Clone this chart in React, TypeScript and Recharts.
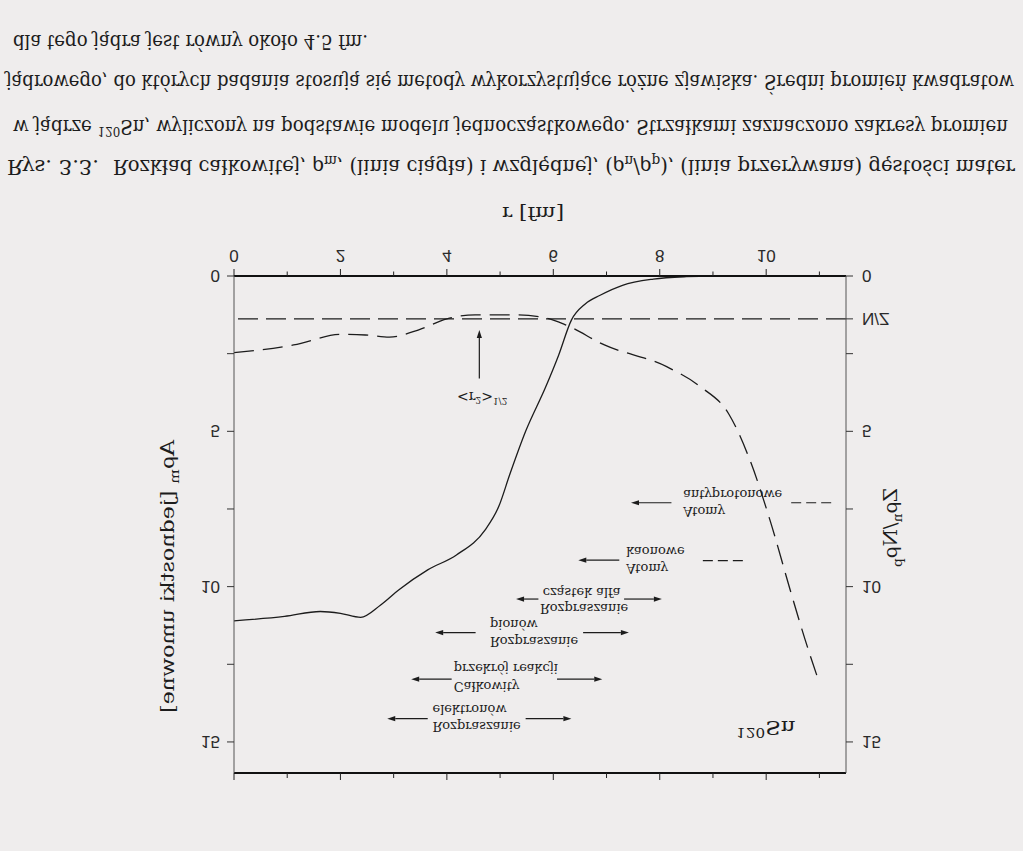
import React from 'react';
import { ComposedChart, Line, XAxis, YAxis, ReferenceLine, Scatter } from 'recharts';

// total density A*rho_m (left axis), solid line
const rhoMR = [0, 0.95, 1.62, 2.0, 2.38, 2.75, 3.1, 3.64, 4.18, 4.72, 4.98, 5.18, 5.48, 5.85, 6.1, 6.34, 6.6, 6.88, 7.3, 7.88, 8.5, 9.0, 10.0, 11.5];
const rhoMV = [11.1, 10.96, 10.8, 10.86, 10.99, 10.6, 10.1, 9.46, 8.98, 8.17, 7.4, 6.4, 5.0, 3.6, 2.55, 1.42, 0.9, 0.62, 0.3, 0.1, 0.02, 0, 0, 0];

// relative density Z*rho_n / N*rho_p (right axis), dashed line
const ratioR = [0, 1.12, 2.02, 2.47, 2.92, 3.46, 4.0, 4.53, 5.26, 5.88, 6.24, 6.96, 8.13, 8.76, 9.3, 9.7, 10.07, 10.45, 10.73, 10.98];
const ratioV = [2.47, 2.22, 1.88, 1.9, 1.97, 1.74, 1.38, 1.25, 1.25, 1.36, 1.58, 2.22, 2.92, 3.56, 4.45, 5.95, 7.85, 10.1, 11.7, 13.0];

const nzRatio = 1.38;

const xTicks = [0, 1, 2, 3, 4, 5, 6, 7, 8, 9, 10, 11];
const yTicksLeft = [0, 2.5, 5, 7.5, 10, 12.5, 15];
const yTicksRight = [0, nzRatio, 2.5, 5, 7.5, 10, 12.5, 15];

// annotation texts (data coordinates: r [fm], value)
const annoTexts = ['Atomy', 'antyprotonowe', 'Atomy', 'kaonowe', 'Rozpraszanie', 'cząstek alfa', 'Rozpraszanie', 'pionów', 'Całkowity', 'przekrój reakcji', 'Rozpraszanie', 'elektronów'];
const annoR = [8.44, 8.44, 7.37, 7.37, 5.75, 5.8, 4.81, 4.81, 4.13, 4.13, 3.73, 3.73];
const annoV = [7.58, 7.05, 9.41, 8.87, 10.7, 10.2, 11.77, 11.23, 13.21, 12.65, 14.52, 13.96];

// arrows (tail -> head)
const arrowFromR = [4.61, 8.22, 7.24, 5.72, 7.33, 4.54, 6.56, 4.09, 6.07, 3.64, 5.48];
const arrowFromV = [3.3, 7.3, 9.15, 10.4, 10.4, 11.48, 11.48, 12.98, 12.98, 14.25, 14.25];
const arrowToR = [4.61, 7.46, 6.47, 5.3, 8.04, 3.78, 7.42, 3.33, 6.92, 2.88, 6.34];
const arrowToV = [1.74, 7.3, 9.15, 10.4, 10.4, 11.48, 11.48, 12.98, 12.98, 14.25, 14.25];

// short dashed range marks
const rangeFromR = [10.47, 8.81];
const rangeToR = [11.28, 9.62];
const rangeV = [7.3, 9.16];

// special labels
const rmsLabelR = 4.19;
const rmsLabelV = 3.88;
const isoLabelR = 9.44;
const isoLabelV = 14.34;

const INK = '#1c1c1c';
const SERIF = 'DejaVu Serif';
const SANS = 'Liberation Sans';

const fmtX = (v: number) => (v % 2 === 0 && v <= 10 ? String(v) : '');
const fmtL = (v: number) => (v % 5 === 0 ? String(v) : '');
const fmtR = (v: number) => (v === nzRatio ? 'N/Z' : v % 5 === 0 ? String(v) : '');

const BottomTick = (p: any) => {
  const v = p.payload.value;
  const major = v % 2 === 0;
  const lbl = fmtX(v);
  return (
    <g>
      <line x1={p.x} x2={p.x} y1={p.y} y2={p.y + (major ? 7 : 4.5)} stroke="#222" strokeWidth={1} />
      {lbl !== '' && (
        <text x={p.x} y={p.y + 14} dy="0.71em" textAnchor="middle" fill="#2a2a2a" fontSize={17} fontFamily={SANS}>
          {lbl}
        </text>
      )}
    </g>
  );
};

const TopTick = (p: any) => {
  const v = p.payload.value;
  const major = v % 2 === 0;
  return <line x1={p.x} x2={p.x} y1={p.y} y2={p.y - (major ? 7 : 5)} stroke="#222" strokeWidth={1} />;
};

const arrowShape = (props: any) => {
  const { x1, y1, x2, y2 } = props;
  const dx = x2 - x1;
  const dy = y2 - y1;
  const len = Math.sqrt(dx * dx + dy * dy) || 1;
  const ux = dx / len;
  const uy = dy / len;
  const hl = 8;
  const hw = 2.6;
  const bx = x2 - ux * hl;
  const by = y2 - uy * hl;
  const p1 = `${bx - uy * hw},${by + ux * hw}`;
  const p2 = `${bx + uy * hw},${by - ux * hw}`;
  return (
    <g>
      <line x1={x1} y1={y1} x2={bx} y2={by} stroke={INK} strokeWidth={1.2} />
      <polygon points={`${x2},${y2} ${p1} ${p2}`} fill={INK} />
    </g>
  );
};

const textShape = (p: any) => (
  <text x={p.cx} y={p.cy} dy="0.35em" fontFamily={SERIF} fontSize={13} fill={INK}>
    {p.payload.label}
  </text>
);

const specialShape = (p: any) => {
  if (p.payload.kind === 'rms') {
    return (
      <text x={p.cx} y={p.cy} dy="0.35em" fontFamily={SERIF} fontSize={14} fill={INK}>
        {'<r'}
        <tspan dy={-5} fontSize={9}>2</tspan>
        <tspan dy={5}>{'>'}</tspan>
        <tspan dy={-6} fontSize={9}>1/2</tspan>
      </text>
    );
  }
  return (
    <text x={p.cx} y={p.cy} fontFamily={SERIF} fontSize={18} fill={INK} textLength={59} lengthAdjust="spacingAndGlyphs">
      <tspan dy={-7} fontSize={12}>120</tspan>
      <tspan dy={7}>Sn</tspan>
    </text>
  );
};

export default function App() {
  const rhoData = rhoMR.map((r, i) => ({ r, v: rhoMV[i] }));
  const ratioData = ratioR.map((r, i) => ({ r, v: ratioV[i] }));
  const textData = annoTexts.map((label, i) => ({ r: annoR[i], v: annoV[i], label }));
  const specialData = [
    { r: rmsLabelR, v: rmsLabelV, kind: 'rms' },
    { r: isoLabelR, v: isoLabelV, kind: 'iso' },
  ];

  const axisTick = { fill: '#2a2a2a', fontSize: 17, fontFamily: SANS };

  return (
    <div
      style={{
        position: 'absolute',
        left: 0,
        top: 0,
        width: 1023,
        height: 851,
        overflow: 'hidden',
        background: '#efeded',
        transform: 'scaleY(-1)',
      }}
    >
      <div style={{ position: 'absolute', left: 0, top: 0 }}>
        <ComposedChart width={1023} height={851} margin={{ top: 58, right: 107, bottom: 236, left: 164 }}>
          <XAxis
            xAxisId="b"
            dataKey="r"
            type="number"
            domain={[0, 11.5]}
            ticks={xTicks}
            interval={0}
            height={40}
            tickSize={0}
            tickMargin={0}
            axisLine={{ stroke: '#111', strokeWidth: 2.2 }}
            tickLine={false}
            tick={BottomTick}
          />
          <XAxis
            xAxisId="t"
            orientation="top"
            dataKey="r"
            type="number"
            domain={[0, 11.5]}
            ticks={xTicks}
            interval={0}
            height={20}
            tickSize={0}
            tickMargin={0}
            axisLine={{ stroke: '#111', strokeWidth: 2.2 }}
            tickLine={false}
            tick={TopTick}
          />
          <YAxis
            yAxisId="l"
            type="number"
            domain={[0, 16]}
            ticks={yTicksLeft}
            interval={0}
            tickFormatter={fmtL}
            width={70}
            tickSize={7}
            tickMargin={7}
            axisLine={{ stroke: '#555', strokeWidth: 1 }}
            tickLine={{ stroke: '#333' }}
            tick={axisTick}
          />
          <YAxis
            yAxisId="rt"
            orientation="right"
            type="number"
            domain={[0, 16]}
            ticks={yTicksRight}
            interval={0}
            tickFormatter={fmtR}
            width={70}
            tickSize={7}
            tickMargin={9}
            axisLine={{ stroke: '#555', strokeWidth: 1 }}
            tickLine={{ stroke: '#333' }}
            tick={axisTick}
          />
          <ReferenceLine xAxisId="b" yAxisId="rt" y={nzRatio} stroke={INK} strokeWidth={1.3} strokeDasharray="20 8" />
          <Line
            xAxisId="t"
            yAxisId="l"
            data={rhoData}
            dataKey="v"
            type="monotone"
            stroke={INK}
            strokeWidth={1.3}
            dot={false}
            isAnimationActive={false}
          />
          <Line
            xAxisId="b"
            yAxisId="rt"
            data={ratioData}
            dataKey="v"
            type="monotone"
            stroke={INK}
            strokeWidth={1.3}
            strokeDasharray="20 9"
            dot={false}
            isAnimationActive={false}
          />
          {arrowFromR.map((r, i) => (
            <ReferenceLine
              key={'a' + i}
              xAxisId="b"
              yAxisId="l"
              segment={[
                { x: r, y: arrowFromV[i] },
                { x: arrowToR[i], y: arrowToV[i] },
              ]}
              shape={arrowShape}
            />
          ))}
          {rangeFromR.map((r, i) => (
            <ReferenceLine
              key={'d' + i}
              xAxisId="b"
              yAxisId="l"
              segment={[
                { x: r, y: rangeV[i] },
                { x: rangeToR[i], y: rangeV[i] },
              ]}
              stroke={INK}
              strokeWidth={1.2}
              strokeDasharray="10 5"
            />
          ))}
          <Scatter xAxisId="b" yAxisId="l" data={textData} dataKey="v" shape={textShape} isAnimationActive={false} />
          <Scatter xAxisId="b" yAxisId="l" data={specialData} dataKey="v" shape={specialShape} isAnimationActive={false} />
        </ComposedChart>
      </div>
      <svg width={1023} height={851} style={{ position: 'absolute', left: 0, top: 0, pointerEvents: 'none' }}>
        <text x={533} y={644} textAnchor="middle" fontFamily={SERIF} fontSize={19} fill={INK} textLength={62} lengthAdjust="spacingAndGlyphs">
          r [fm]
        </text>
        <text transform="translate(174,274.5) rotate(-90)" textAnchor="middle" fontFamily={SERIF} fontSize={19} fill={INK} textLength={273} lengthAdjust="spacingAndGlyphs">
          Aρ<tspan dy={5} fontSize={13}>m</tspan>
          <tspan dy={-5}> [jednostki umowne]</tspan>
        </text>
        <text transform="translate(897,323.5) rotate(-90)" textAnchor="middle" fontFamily={SERIF} fontSize={19} fill={INK} textLength={79} lengthAdjust="spacingAndGlyphs">
          Zρ<tspan dy={5} fontSize={13}>n</tspan>
          <tspan dy={-5}>/Nρ</tspan>
          <tspan dy={5} fontSize={13}>p</tspan>
        </text>
        <g fontFamily={SERIF} fontSize={20} fill={INK}>
          <text x={7} y={691} textLength={92} lengthAdjust="spacingAndGlyphs">Rys. 3.3.</text>
          <text x={113} y={691} textLength={902} lengthAdjust="spacingAndGlyphs">
            Rozkład całkowitej, ρ<tspan dy={4} fontSize={14}>m</tspan>
            <tspan dy={-4}>, (linia ciągła) i względnej, (ρ</tspan>
            <tspan dy={4} fontSize={14}>n</tspan>
            <tspan dy={-4}>/ρ</tspan>
            <tspan dy={4} fontSize={14}>p</tspan>
            <tspan dy={-4}>), (linia przerywana) gęstości mater</tspan>
          </text>
          <text x={13} y={731} textLength={995} lengthAdjust="spacingAndGlyphs">
            w jądrze <tspan dy={-7} fontSize={13}>120</tspan>
            <tspan dy={7}>Sn, wyliczony na podstawie modelu jednocząstkowego. Strzałkami zaznaczono zakresy promien</tspan>
          </text>
          <text x={6} y={776} textLength={1008} lengthAdjust="spacingAndGlyphs">
            jądrowego, do których badania stosują się metody wykorzystujące różne zjawiska. Średni promień kwadratow
          </text>
          <text x={13} y={816} textLength={355} lengthAdjust="spacingAndGlyphs">
            dla tego jądra jest równy około 4.5 fm.
          </text>
        </g>
      </svg>
    </div>
  );
}
